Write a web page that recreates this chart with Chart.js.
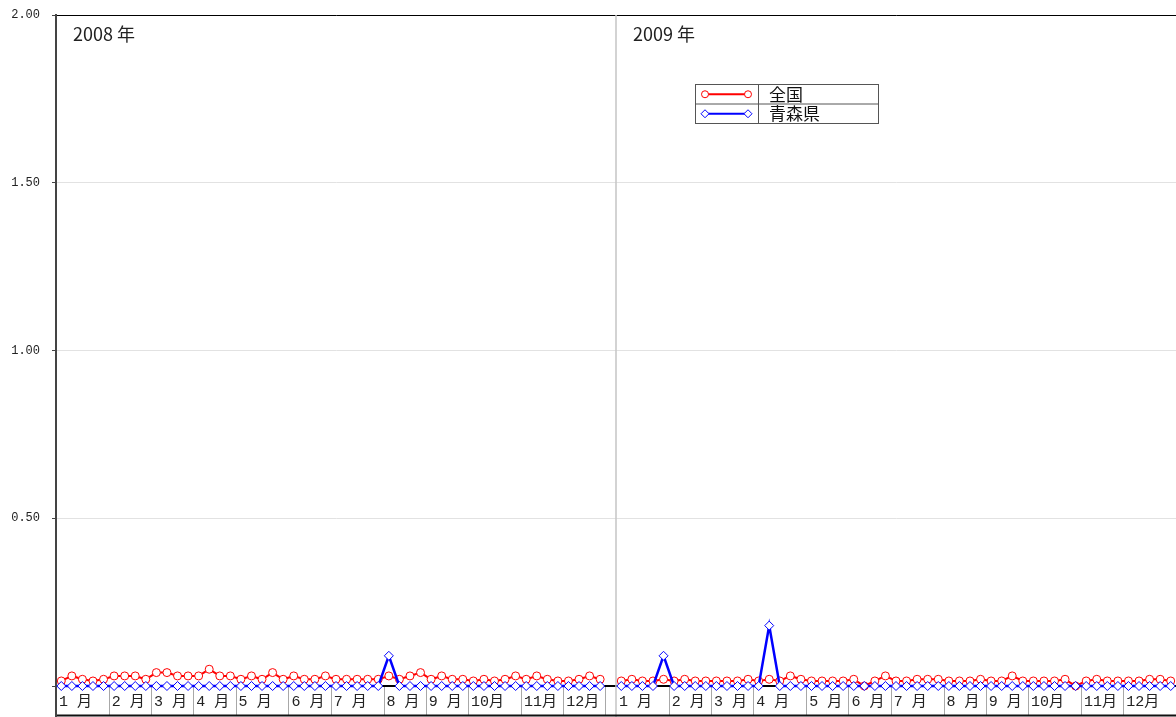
<!DOCTYPE html>
<html>
<head>
<meta charset="utf-8">
<script src="https://cdn.jsdelivr.net/npm/chart.js@4/dist/chart.umd.min.js"></script>
<style>
  html, body { margin: 0; padding: 0; background: #fff; }
  canvas { display: block; }
</style>
</head>
<body>
<canvas id="chart" width="1176" height="717"></canvas>
<script>
const years = ["2008 年", "2009 年"];
const monthLabels = ["1 月", "2 月", "3 月", "4 月", "5 月", "6 月", "7 月", "8 月", "9 月", "10月", "11月", "12月"];
const weeksPerMonth2008 = [5, 4, 4, 4, 5, 4, 5, 4, 4, 5, 4, 4]; // week 53 slot stays empty
const weeksPerMonth2009 = [5, 4, 4, 5, 4, 4, 5, 4, 4, 5, 4, 5];
const slotsPerYear = 53;
const seriesNames = ["全国", "青森県"];
const yTicks = [0, 0.5, 1, 1.5, 2];

const zenkoku2008 = [0.015, 0.03, 0.02, 0.015, 0.02, 0.03, 0.03, 0.03, 0.02, 0.04,
  0.04, 0.03, 0.03, 0.03, 0.05, 0.03, 0.03, 0.02, 0.03, 0.02,
  0.04, 0.02, 0.03, 0.02, 0.02, 0.03, 0.02, 0.02, 0.02, 0.02,
  0.02, 0.03, 0.02, 0.03, 0.04, 0.02, 0.03, 0.02, 0.02, 0.015,
  0.02, 0.015, 0.02, 0.03, 0.02, 0.03, 0.02, 0.015, 0.015, 0.02,
  0.03, 0.02, null];
const zenkoku2009 = [0.015, 0.02, 0.015, 0.015, 0.02, 0.015, 0.02, 0.015, 0.015, 0.015,
  0.015, 0.015, 0.02, 0.015, 0.02, 0.015, 0.03, 0.02, 0.015, 0.015,
  0.015, 0.015, 0.02, 0, 0.015, 0.03, 0.015, 0.015, 0.02, 0.02,
  0.02, 0.015, 0.015, 0.015, 0.02, 0.015, 0.015, 0.03, 0.015, 0.015,
  0.015, 0.015, 0.02, 0, 0.015, 0.02, 0.015, 0.015, 0.015, 0.015,
  0.02, 0.02, 0.015];
const aomori2008 = [0, 0, 0, 0, 0, 0, 0, 0, 0, 0,
  0, 0, 0, 0, 0, 0, 0, 0, 0, 0,
  0, 0, 0, 0, 0, 0, 0, 0, 0, 0,
  0, 0.09, 0, 0, 0, 0, 0, 0, 0, 0,
  0, 0, 0, 0, 0, 0, 0, 0, 0, 0,
  0, 0, null];
const aomori2009 = [0, 0, 0, 0, 0.09, 0, 0, 0, 0, 0,
  0, 0, 0, 0, 0.18, 0, 0, 0, 0, 0,
  0, 0, 0, 0, 0, 0, 0, 0, 0, 0,
  0, 0, 0, 0, 0, 0, 0, 0, 0, 0,
  0, 0, 0, 0, 0, 0, 0, 0, 0, 0,
  0, 0, 0];

// one category per week slot
const weekLabels = [];
for (const y of [2008, 2009]) {
  for (let w = 1; w <= slotsPerYear; w++) weekLabels.push(y + "-W" + w);
}

const jpFont = '"Noto Sans CJK JP", "Noto Sans", sans-serif';
const monthFont = '15px "Liberation Mono", "Noto Sans CJK JP", monospace';

function vline(ctx, x, y0, y1) {
  ctx.beginPath();
  ctx.moveTo(x, y0);
  ctx.lineTo(x, y1);
  ctx.stroke();
}

// month boxes under the axis, year separator and year titles
const yearLayout = {
  id: "yearLayout",
  beforeDatasetsDraw(chart) {
    const { ctx, chartArea, scales: { x } } = chart;
    const step = x.getPixelForValue(1) - x.getPixelForValue(0);
    const base = chartArea.bottom;
    const bottom = 716;
    ctx.save();
    ctx.textAlign = "left";
    ctx.textBaseline = "middle";

    [weeksPerMonth2008, weeksPerMonth2009].forEach((counts, yi) => {
      const start = yi * slotsPerYear;
      const yearLeft = x.getPixelForValue(start) - step / 2;

      // year separator (full height)
      if (yi > 0) {
        ctx.strokeStyle = "#c4c4c4";
        ctx.lineWidth = 1.5;
        vline(ctx, Math.round(yearLeft), chartArea.top, 717);
      }

      ctx.fillStyle = "#222";
      ctx.font = "18px " + jpFont;
      ctx.fillText(years[yi], yearLeft + 17, chartArea.top + 19);

      let idx = start;
      counts.forEach((n, mi) => {
        const left = x.getPixelForValue(idx) - step / 2;
        if (mi > 0) {
          ctx.strokeStyle = "#a8a8a8";
          ctx.lineWidth = 1;
          vline(ctx, Math.round(left) + 0.5, base + 1, bottom);
        }
        ctx.fillStyle = "#222";
        ctx.font = monthFont;
        ctx.fillText(monthLabels[mi], left + 3, base + 16);
        idx += n;
      });
      // right edge of the last month (before an unused week 53)
      if (idx < start + slotsPerYear) {
        const left = x.getPixelForValue(idx) - step / 2;
        ctx.strokeStyle = "#a8a8a8";
        ctx.lineWidth = 1;
        vline(ctx, Math.round(left) + 0.5, base + 1, bottom);
      }
    });

    // bottom border and left axis extension
    ctx.strokeStyle = "#111";
    ctx.lineWidth = 2;
    ctx.beginPath();
    ctx.moveTo(chartArea.left - 1, 715.5);
    ctx.lineTo(chartArea.right, 715.5);
    ctx.stroke();
    ctx.strokeStyle = "#444";
    vline(ctx, chartArea.left, chartArea.bottom, 717);
    ctx.restore();
  }
};

// table style legend
const tableLegend = {
  id: "tableLegend",
  afterDatasetsDraw(chart) {
    const { ctx } = chart;
    const bx = 695, by = 84, bw = 183, rowH = 19.5, col = 63;
    ctx.save();
    ctx.fillStyle = "#fff";
    ctx.fillRect(bx, by, bw, rowH * 2);
    ctx.strokeStyle = "#555";
    ctx.lineWidth = 1;
    ctx.strokeRect(bx + 0.5, by + 0.5, bw, rowH * 2);
    ctx.beginPath();
    ctx.moveTo(bx, by + rowH + 0.5);
    ctx.lineTo(bx + bw, by + rowH + 0.5);
    ctx.moveTo(bx + col + 0.5, by);
    ctx.lineTo(bx + col + 0.5, by + rowH * 2);
    ctx.stroke();

    seriesNames.forEach((name, i) => {
      const ds = chart.data.datasets[i];
      const cy = by + rowH * (i + 0.5) + 0.5;
      ctx.strokeStyle = ds.borderColor;
      ctx.lineWidth = 2;
      ctx.beginPath();
      ctx.moveTo(bx + 10, cy);
      ctx.lineTo(bx + 53, cy);
      ctx.stroke();
      [bx + 10, bx + 53].forEach(px => {
        ctx.fillStyle = "#fff";
        ctx.strokeStyle = ds.borderColor;
        ctx.lineWidth = 1;
        ctx.beginPath();
        if (ds.pointStyle === "circle") {
          ctx.arc(px, cy, 3.5, 0, Math.PI * 2);
        } else {
          ctx.moveTo(px - 4, cy);
          ctx.lineTo(px, cy - 4);
          ctx.lineTo(px + 4, cy);
          ctx.lineTo(px, cy + 4);
          ctx.closePath();
        }
        ctx.fill();
        ctx.stroke();
      });
      ctx.fillStyle = "#111";
      ctx.font = "17px " + jpFont;
      ctx.textAlign = "left";
      ctx.textBaseline = "middle";
      ctx.fillText(name, bx + col + 11, cy);
    });
    ctx.restore();
  }
};

new Chart(document.getElementById("chart"), {
  type: "line",
  data: {
    labels: weekLabels,
    datasets: [
      {
        label: seriesNames[0],
        data: zenkoku2008.concat(zenkoku2009),
        borderColor: "#ff0000",
        backgroundColor: "#ffffff",
        borderWidth: 2,
        pointStyle: "circle",
        pointRadius: 4,
        pointBorderWidth: 1,
        pointBackgroundColor: "#ffffff",
        tension: 0,
        spanGaps: false,
        clip: false,
        order: 1
      },
      {
        label: seriesNames[1],
        data: aomori2008.concat(aomori2009),
        borderColor: "#0000ff",
        backgroundColor: "#ffffff",
        borderWidth: 2.5,
        pointStyle: "rectRot",
        pointRadius: 4.5,
        pointBorderWidth: 1,
        pointBackgroundColor: "#ffffff",
        tension: 0,
        spanGaps: false,
        clip: false,
        order: 0
      }
    ]
  },
  options: {
    responsive: false,
    animation: false,
    events: [],
    layout: { padding: { top: 15, right: 0, bottom: 0, left: 0 }, autoPadding: false },
    plugins: {
      legend: { display: false },
      tooltip: { enabled: false }
    },
    scales: {
      x: {
        type: "category",
        offset: true,
        ticks: { display: false },
        grid: { display: false, drawTicks: false },
        border: { display: true, color: "#000", width: 2 },
        afterFit: scale => { scale.height = 31; }
      },
      y: {
        min: 0,
        max: 2,
        afterBuildTicks: scale => { scale.ticks = yTicks.map(v => ({ value: v })); },
        ticks: {
          padding: 12,
          color: "#222",
          font: { family: '"Liberation Mono", "DejaVu Sans Mono", monospace', size: 12 },
          callback: v => (v === 0 ? "" : Number(v).toFixed(2))
        },
        grid: {
          color: c => (c.tick && c.tick.value === 2 ? "#000" : c.tick && c.tick.value === 0 ? "rgba(0,0,0,0)" : "#e2e2e2"),
          lineWidth: 1,
          drawTicks: true,
          tickLength: 4,
          tickColor: "#444"
        },
        border: { display: true, color: "#444", width: 2 },
        afterFit: scale => {
          scale.width = 56;
          scale.paddingTop = 0;
          scale.paddingBottom = 0;
        }
      }
    }
  },
  plugins: [yearLayout, tableLegend]
});
</script>
</body>
</html>
